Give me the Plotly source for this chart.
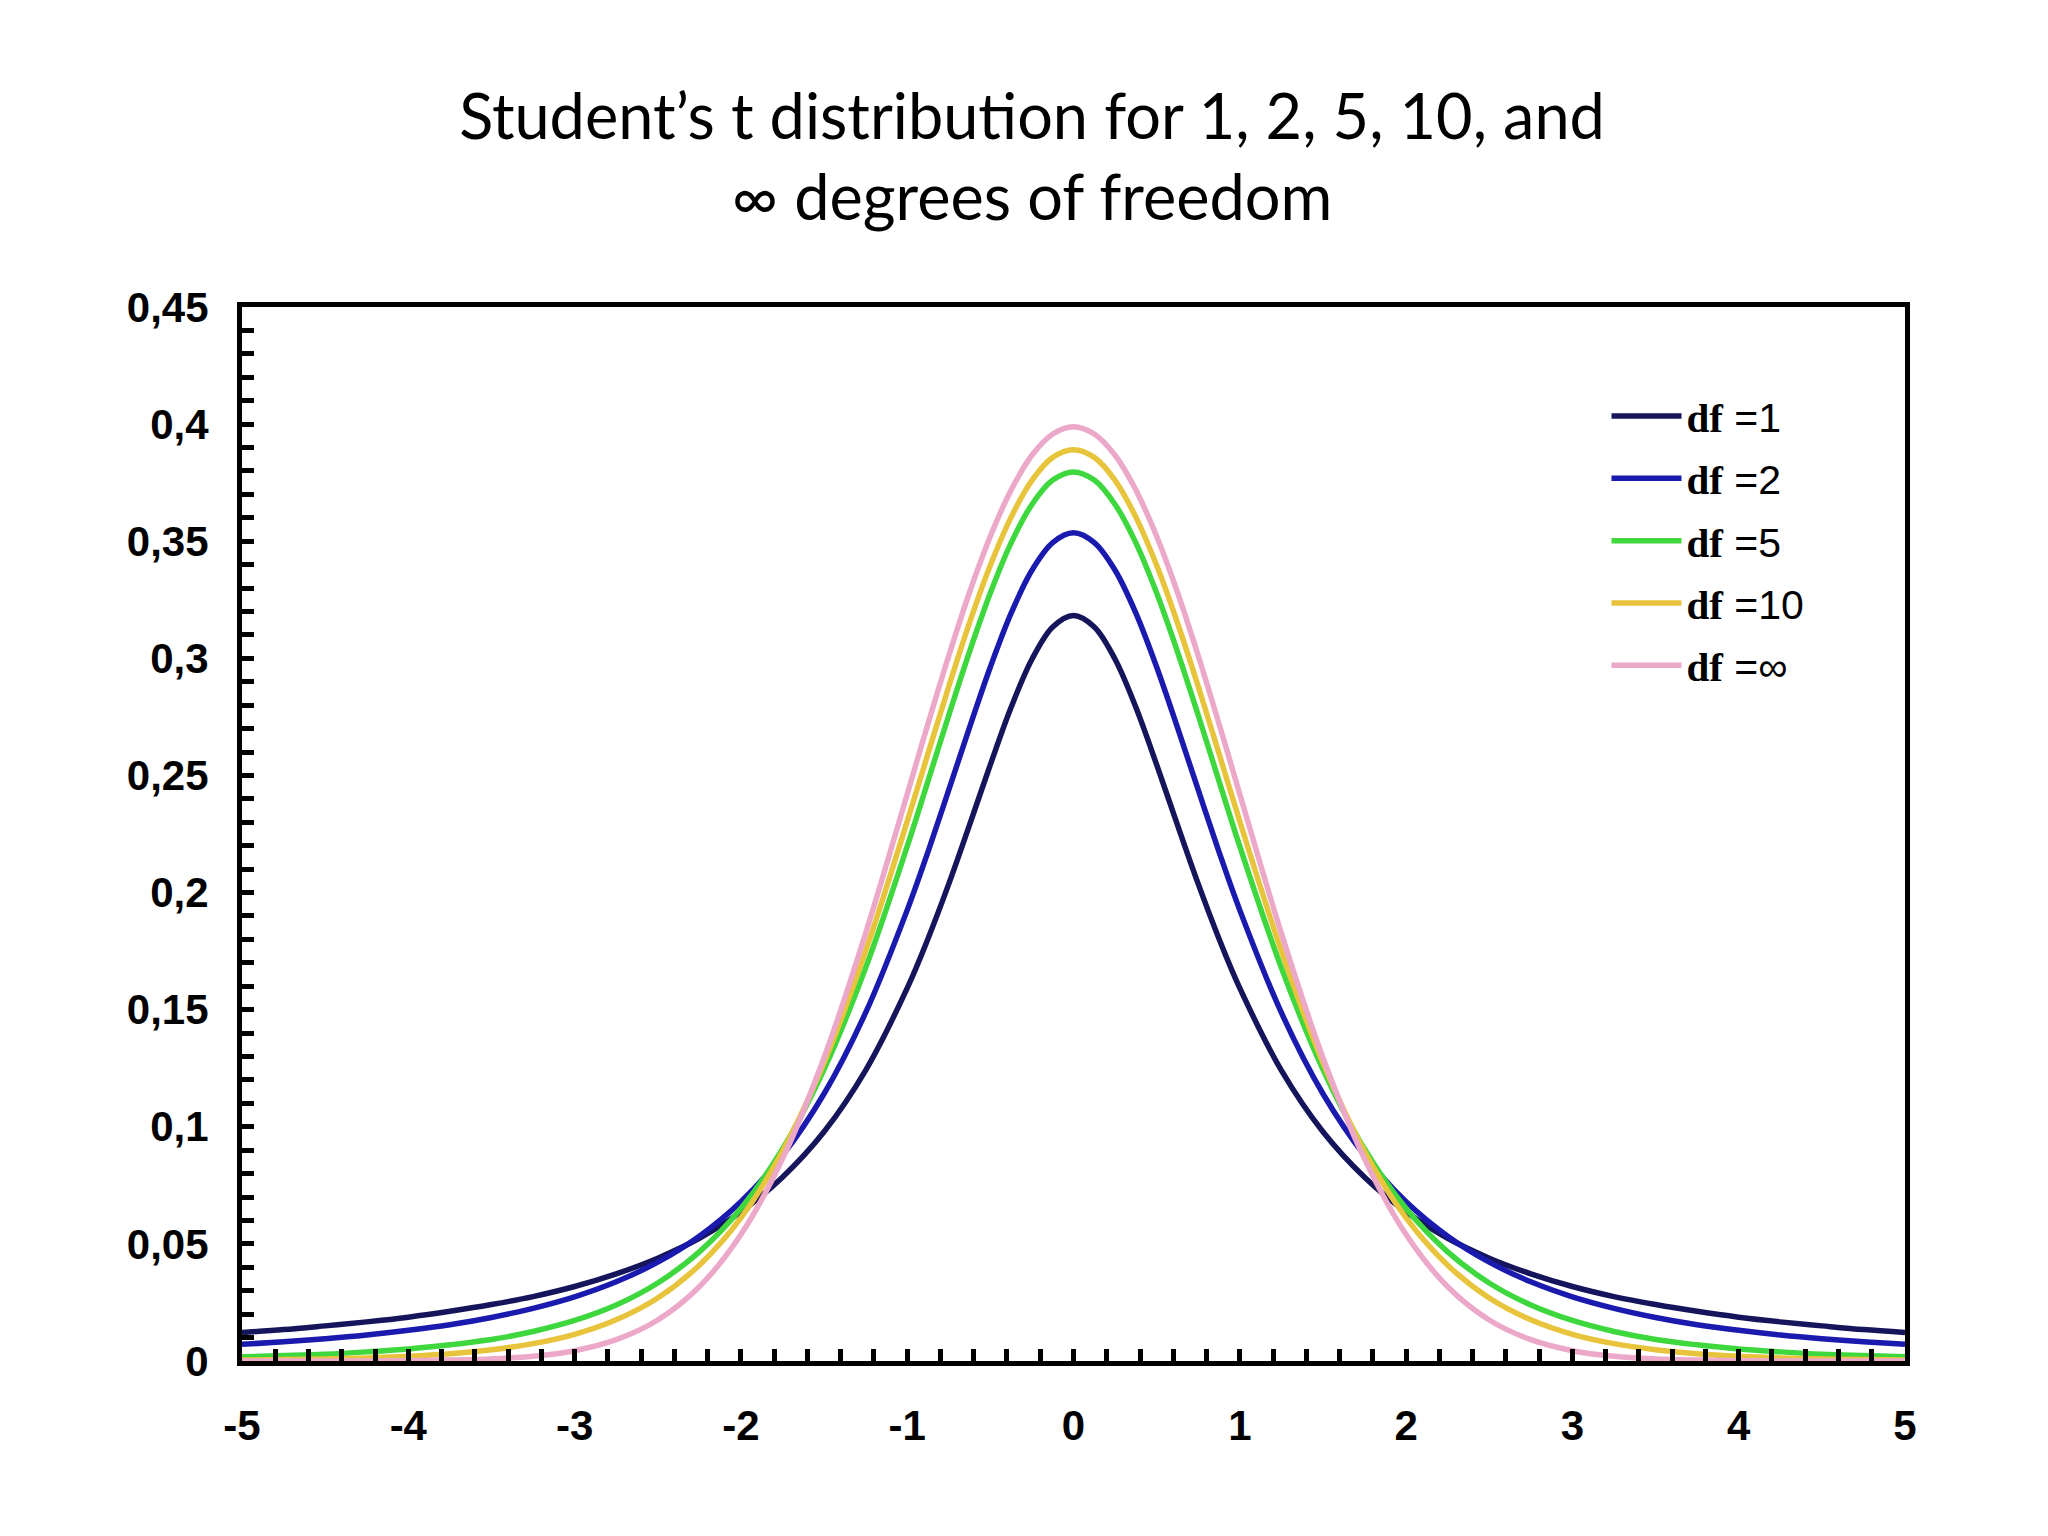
import plotly.graph_objects as go

x_vals = [-5.0, -4.75, -4.5, -4.25, -4.0, -3.75, -3.5, -3.25, -3.0, -2.75, -2.5, -2.25,
          -2.0, -1.75, -1.5, -1.25, -1.0, -0.875, -0.75, -0.625, -0.5, -0.375, -0.25, -0.125,
          0.0, 0.125, 0.25, 0.375, 0.5, 0.625, 0.75, 0.875,
          1.0, 1.25, 1.5, 1.75, 2.0, 2.25, 2.5, 2.75, 3.0, 3.25, 3.5, 3.75, 4.0,
          4.25, 4.5, 4.75, 5.0]

df1 = [0.0122, 0.0134, 0.0150, 0.0167, 0.0187, 0.0212, 0.0241, 0.0275, 0.0318, 0.0372,
       0.0439, 0.0524, 0.0637, 0.0785, 0.0979, 0.1241, 0.1592, 0.1803, 0.2037, 0.2289,
       0.2546, 0.2791, 0.2996, 0.3134,
       0.3183,
       0.3134, 0.2996, 0.2791, 0.2546, 0.2289, 0.2037, 0.1803,
       0.1592, 0.1241, 0.0979, 0.0785, 0.0637, 0.0524, 0.0439,
       0.0372, 0.0318, 0.0275, 0.0241, 0.0212, 0.0187, 0.0167, 0.0150, 0.0134, 0.0122]

df2 = [0.0071, 0.0082, 0.0095, 0.0111, 0.0131, 0.0155, 0.0186, 0.0225, 0.0274, 0.0338,
       0.0422, 0.0533, 0.0680, 0.0878, 0.1141, 0.1487, 0.1925, 0.2174, 0.2438, 0.2705,
       0.2963, 0.3193, 0.3376, 0.3494,
       0.3536,
       0.3494, 0.3376, 0.3193, 0.2963, 0.2705, 0.2438, 0.2174,
       0.1925, 0.1487, 0.1141, 0.0878, 0.0680, 0.0533, 0.0422,
       0.0338, 0.0274, 0.0225, 0.0186, 0.0155, 0.0131, 0.0111, 0.0095, 0.0082, 0.0071]

df5 = [0.0018, 0.0023, 0.0029, 0.0039, 0.0051, 0.0069, 0.0092, 0.0126, 0.0173, 0.0239,
       0.0333, 0.0466, 0.0651, 0.0905, 0.1245, 0.1679, 0.2197, 0.2476, 0.2757, 0.3029,
       0.3279, 0.3493, 0.3657, 0.3761,
       0.3796,
       0.3761, 0.3657, 0.3493, 0.3279, 0.3029, 0.2757, 0.2476,
       0.2197, 0.1679, 0.1245, 0.0905, 0.0651, 0.0466, 0.0333,
       0.0239, 0.0173, 0.0126, 0.0092, 0.0069, 0.0051, 0.0039, 0.0029, 0.0023, 0.0018]

df10 = [0.0004, 0.0006, 0.0009, 0.0013, 0.0020, 0.0031, 0.0048, 0.0074, 0.0114, 0.0176,
        0.0269, 0.0409, 0.0611, 0.0895, 0.1274, 0.1751, 0.2304, 0.2593, 0.2880, 0.3152,
        0.3397, 0.3603, 0.3760, 0.3858,
        0.3891,
        0.3858, 0.3760, 0.3603, 0.3397, 0.3152, 0.2880, 0.2593,
        0.2304, 0.1751, 0.1274, 0.0895, 0.0611, 0.0409, 0.0269,
        0.0176, 0.0114, 0.0074, 0.0048, 0.0031, 0.0020, 0.0013, 0.0009, 0.0006, 0.0004]

dfinf = [0.0000, 0.0000, 0.0000, 0.0000, 0.0001, 0.0004, 0.0009, 0.0020, 0.0044, 0.0091,
         0.0175, 0.0317, 0.0540, 0.0863, 0.1295, 0.1826, 0.2420, 0.2721, 0.3011, 0.3282,
         0.3521, 0.3719, 0.3867, 0.3958,
         0.3989,
         0.3958, 0.3867, 0.3719, 0.3521, 0.3282, 0.3011, 0.2721,
         0.2420, 0.1826, 0.1295, 0.0863, 0.0540, 0.0317, 0.0175,
         0.0091, 0.0044, 0.0020, 0.0009, 0.0004, 0.0001, 0.0000, 0.0000, 0.0000, 0.0000]

series_names = ["1", "2", "5", "10", "∞"]
series_values = [df1, df2, df5, df10, dfinf]
series_colors = ["#15155c", "#1a1aae", "#3ed83e", "#e8c43c", "#eca8c8"]

x_tick_vals = [-5, -4, -3, -2, -1, 0, 1, 2, 3, 4, 5]
x_tick_text = ["-5", "-4", "-3", "-2", "-1", "0", "1", "2", "3", "4", "5"]
y_tick_vals = [0, 0.05, 0.1, 0.15, 0.2, 0.25, 0.3, 0.35, 0.4, 0.45]
y_tick_text = ["0", "0,05", "0,1", "0,15", "0,2", "0,25", "0,3", "0,35", "0,4", "0,45"]

title_text = "Student’s t distribution for 1, 2, 5, 10, and<br>∞ degrees of freedom"

fig = go.Figure()
for i, (name, vals, col) in enumerate(zip(series_names, series_values, series_colors)):
    fig.add_trace(go.Scatter(
        x=x_vals, y=vals, mode="lines",
        line=dict(color=col, width=5.5, shape="spline", smoothing=1.0),
        name=('<span style="font-family:Liberation Serif;font-weight:bold">df</span> =' + name),
        legendgroup=f"g{i}",
    ))

axis_common = dict(
    showline=True, linecolor="black", linewidth=5, mirror=True,
    showgrid=False, zeroline=False,
    ticks="inside", ticklen=12, tickwidth=5, tickcolor="black",
    tickfont=dict(family="Liberation Sans", size=42, color="black", weight="bold"),
)

fig.update_xaxes(range=[-5, 5], tickvals=x_tick_vals, ticktext=x_tick_text,
                 minor=dict(dtick=0.2, ticks="inside", ticklen=12, tickwidth=5, tickcolor="black"),
                 ticklabelstandoff=24, **axis_common)
fig.update_yaxes(range=[0, 0.45], tickvals=y_tick_vals, ticktext=y_tick_text,
                 minor=dict(dtick=0.01, ticks="inside", ticklen=12, tickwidth=5, tickcolor="black"),
                 ticklabelstandoff=20, **axis_common)

fig.update_layout(
    width=2048, height=1536,
    paper_bgcolor="white", plot_bgcolor="white",
    margin=dict(l=234, r=151, t=299, b=183),
    title=dict(text=title_text, x=0.5, xanchor="center", y=0.915, yanchor="top",
               font=dict(family="Lato", size=63, color="black")),
    legend=dict(x=0.8205, y=0.928, xanchor="left", yanchor="top",
                bgcolor="rgba(0,0,0,0)", traceorder="grouped", tracegroupgap=6,
                itemwidth=70,
                font=dict(family="Liberation Sans", size=41, color="black")),
    showlegend=True,
)

fig.write_html("out.html")
